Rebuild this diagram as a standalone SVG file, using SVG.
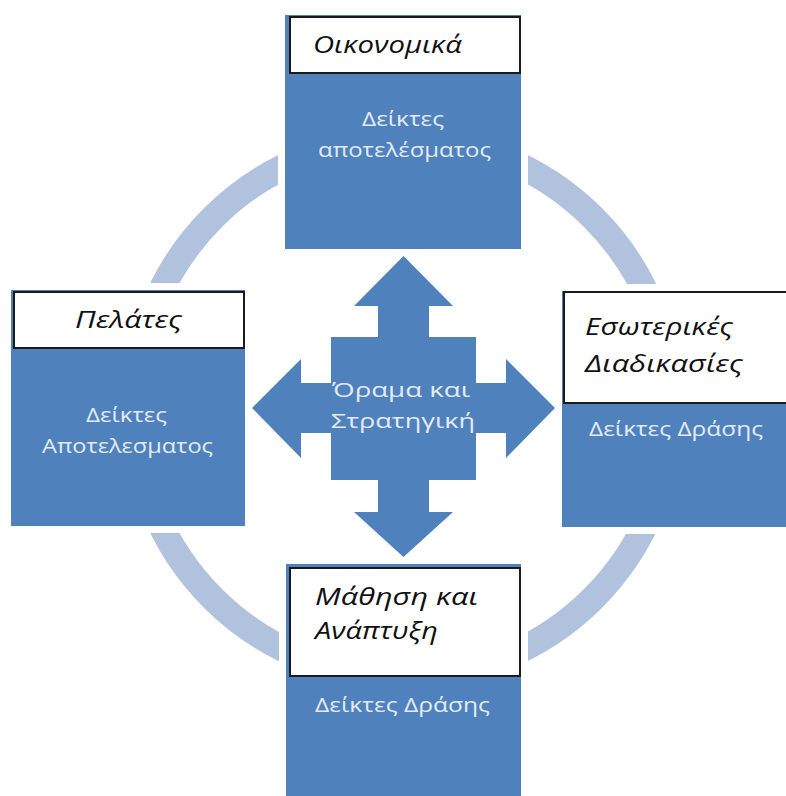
<svg xmlns="http://www.w3.org/2000/svg" width="786" height="796" viewBox="0 0 786 796">
<style>
.blue{fill:#4f81bd}
.lbl{fill:#ffffff;stroke:#1a1a1a;stroke-width:2}
.ttl{font-family:"Open Sans","Noto Sans","DejaVu Sans",sans-serif;font-style:italic;font-size:24px;fill:#111}
.wt{font-family:"Open Sans","Noto Sans","DejaVu Sans",sans-serif;font-size:20px;fill:#e4ebf5}
.ring{fill:none;stroke:#b0c2de;stroke-width:26}
</style>
<defs>
<clipPath id="gaps">
<path clip-rule="evenodd" d="M0,0H786V796H0Z M278,8H528V256H278Z M4,283H252V533H4Z M555,284H786V534H555Z M279,557H528V796H279Z"/>
</clipPath>
</defs>
<rect width="786" height="796" fill="#ffffff"/>
<g id="connectors">
<circle class="ring" cx="403" cy="408" r="269" clip-path="url(#gaps)"/>
</g>
<g id="center">
<path class="blue" d="M403.5,256 L453,306 L429,306 L429,337 L476,337 L476,383 L506,383 L506,359 L555,408 L506,458 L506,433 L476,433 L476,480 L429,480 L429,512 L453,512 L403.5,557 L354,512 L378,512 L378,480 L331,480 L331,433 L301,433 L301,458 L252,408 L301,359 L301,383 L331,383 L331,337 L378,337 L378,306 L354,306 Z"/>
<text class="wt" x="332" y="397" textLength="138" lengthAdjust="spacingAndGlyphs">Όραμα και</text>
<text class="wt" x="331" y="428" textLength="144" lengthAdjust="spacingAndGlyphs">Στρατηγική</text>
</g>
<g id="oikonomika">
<rect class="blue" x="285" y="15" width="236" height="234"/>
<rect class="lbl" x="290" y="17" width="230" height="56"/>
<text class="ttl" x="313" y="53" textLength="149" lengthAdjust="spacingAndGlyphs">Οικονομικά</text>
<text class="wt" x="362" y="126" textLength="82" lengthAdjust="spacingAndGlyphs">Δείκτες</text>
<text class="wt" x="318" y="157" textLength="173" lengthAdjust="spacingAndGlyphs">αποτελέσματος</text>
</g>
<g id="pelates">
<rect class="blue" x="11" y="290" width="234" height="236"/>
<rect class="lbl" x="14" y="292" width="230" height="56"/>
<text class="ttl" x="75" y="328" textLength="107" lengthAdjust="spacingAndGlyphs">Πελάτες</text>
<text class="wt" x="86" y="422" textLength="81" lengthAdjust="spacingAndGlyphs">Δείκτες</text>
<text class="wt" x="42" y="453" textLength="171" lengthAdjust="spacingAndGlyphs">Αποτελεσματος</text>
</g>
<g id="esoterikes">
<rect class="blue" x="562" y="291" width="230" height="236"/>
<rect class="lbl" x="564" y="292" width="230" height="111"/>
<text class="ttl" x="585" y="335" textLength="148" lengthAdjust="spacingAndGlyphs">Εσωτερικές</text>
<text class="ttl" x="585" y="372" textLength="158" lengthAdjust="spacingAndGlyphs">Διαδικασίες</text>
<text class="wt" x="589" y="436" textLength="174" lengthAdjust="spacingAndGlyphs">Δείκτες Δράσης</text>
</g>
<g id="mathisi">
<rect class="blue" x="286" y="564" width="235" height="240"/>
<rect class="lbl" x="290" y="568" width="230" height="108"/>
<text class="ttl" x="315" y="605" textLength="163" lengthAdjust="spacingAndGlyphs">Μάθηση και</text>
<text class="ttl" x="315" y="639" textLength="123" lengthAdjust="spacingAndGlyphs">Ανάπτυξη</text>
<text class="wt" x="315" y="712" textLength="175" lengthAdjust="spacingAndGlyphs">Δείκτες Δράσης</text>
</g>
</svg>
